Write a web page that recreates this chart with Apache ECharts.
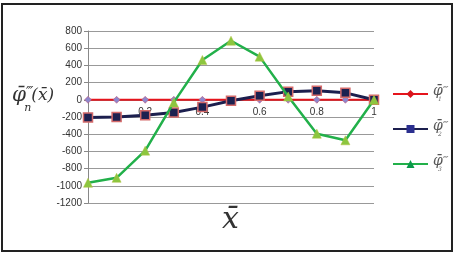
<!DOCTYPE html>
<html>
<head>
<meta charset="utf-8">
<script src="https://cdn.jsdelivr.net/npm/echarts@6/dist/echarts.min.js"></script>
<style>
  html, body { margin: 0; padding: 0; background: #fff; }
  #chart { width: 457px; height: 254px; }
</style>
</head>
<body>
<div id="chart"></div>
<script>
// values
const xs = [0, 0.1, 0.2, 0.3, 0.4, 0.5, 0.6, 0.7, 0.8, 0.9, 1]
const phi1 = [0, 0, 0, 0, 0, 0, 0, 0, 0, 0, 0]
const phi2 = [-205, -200, -180, -147, -85, -12, 46, 95, 105, 81, 0]
const phi3 = [-965, -907, -591, -30, 463, 687, 502, 38, -394, -471, 0]
const yMin = -1200
const yMax = 800
const names = ['phi1', 'phi2', 'phi3']
const subs = { phi1: '1', phi2: '2', phi3: '3' }

const gridTop = 31
const gridBottom = 51
const plotH = 254 - gridTop - gridBottom
// put the x axis (line + labels) on the zero line
const xOffset = -(0 - yMin) / (yMax - yMin) * plotH

const pairs = (vals) => xs.map((x, i) => [x, vals[i]])

const chart = echarts.init(document.getElementById('chart'))
chart.setOption({
  animation: false,
  grid: { left: 88, right: 83, top: gridTop, bottom: gridBottom },
  legend: {
    orient: 'vertical',
    left: 387,
    top: 79,
    itemWidth: 35,
    itemHeight: 10,
    itemGap: 17,
    formatter: n => '{p|φ̄}{q|‴}\n{s|' + subs[n] + '}',
    textStyle: {
      color: '#666',
      rich: {
        p: { fontFamily: 'DejaVu Serif', fontStyle: 'italic', fontSize: 14, color: '#555', lineHeight: 10 },
        q: { fontFamily: 'DejaVu Serif', fontStyle: 'italic', fontSize: 11, color: '#777', lineHeight: 10, verticalAlign: 'top' },
        s: { fontFamily: 'DejaVu Serif', fontStyle: 'italic', fontSize: 6, color: '#666', lineHeight: 6, padding: [0, 0, 0, 5] }
      }
    },
    data: [
      { name: names[0], itemStyle: { color: '#d9141c', borderWidth: 0 } },
      { name: names[1], itemStyle: { color: '#2b2f8f', borderWidth: 0 } },
      { name: names[2], itemStyle: { color: '#0a9a4a', borderWidth: 0 } }
    ]
  },
  xAxis: {
    type: 'value',
    min: 0,
    max: 1,
    interval: 0.2,
    offset: xOffset,
    splitLine: { show: false },
    axisLine: { onZero: false, lineStyle: { color: '#888' } },
    axisTick: { show: true, length: 3, lineStyle: { color: '#888' } },
    axisLabel: {
      color: '#333', fontSize: 10, fontFamily: 'Liberation Sans', margin: 7,
      formatter: v => (v === 0 ? '' : String(Math.round(v * 10) / 10))
    }
  },
  yAxis: {
    type: 'value',
    min: yMin,
    max: yMax,
    interval: 200,
    axisLine: { show: true, lineStyle: { color: '#888' } },
    axisTick: { show: true, length: 4, lineStyle: { color: '#888' } },
    splitLine: { lineStyle: { color: '#999', width: 1 } },
    axisLabel: { color: '#333', fontSize: 10, fontFamily: 'Liberation Sans', margin: 6, formatter: v => String(v) }
  },
  series: [
    {
      name: names[0],
      type: 'line',
      data: pairs(phi1),
      symbol: 'diamond',
      symbolSize: 7,
      lineStyle: { color: '#e5141c', width: 2 },
      itemStyle: { color: '#8d86cc', borderColor: '#c04a6a', borderWidth: 0.5 },
      z: 3
    },
    {
      name: names[1],
      type: 'line',
      data: pairs(phi2),
      symbol: 'rect',
      symbolSize: 9,
      lineStyle: { color: '#1c1f4e', width: 3 },
      itemStyle: { color: '#1c2150', borderColor: '#d46a6a', borderWidth: 1.5 },
      z: 4
    },
    {
      name: names[2],
      type: 'line',
      data: pairs(phi3),
      symbol: 'triangle',
      symbolSize: 9,
      lineStyle: { color: '#22b04a', width: 2.5 },
      itemStyle: { color: '#8cc63f', borderColor: '#b0c040', borderWidth: 0.5 },
      z: 5
    }
  ],
  graphic: [
    {
      type: 'rect',
      shape: { x: 2, y: 4, width: 450, height: 247 },
      style: { fill: 'none', stroke: '#222', lineWidth: 2 },
      silent: true
    },
    {
      type: 'text',
      left: 12,
      top: 86,
      style: {
        text: '{p|φ̄}{q|‴}{n|n}{r|(x̄)}',
        rich: {
          p: { fontFamily: 'DejaVu Serif', fontStyle: 'italic', fontSize: 20, fill: '#333' },
          q: { fontFamily: 'DejaVu Serif', fontStyle: 'italic', fontSize: 14, fill: '#333', verticalAlign: 'top' },
          n: { fontFamily: 'DejaVu Serif', fontStyle: 'italic', fontSize: 11, fill: '#333', verticalAlign: 'bottom', padding: [0, 0, -8, -9] },
          r: { fontFamily: 'DejaVu Serif', fontStyle: 'italic', fontSize: 17, fill: '#333' }
        }
      }
    },
    {
      type: 'text',
      left: 222,
      top: 205,
      style: { text: 'x̄', fontFamily: 'DejaVu Serif', fontStyle: 'italic', fontSize: 30, fill: '#333' }
    }
  ]
})
</script>
</body>
</html>
